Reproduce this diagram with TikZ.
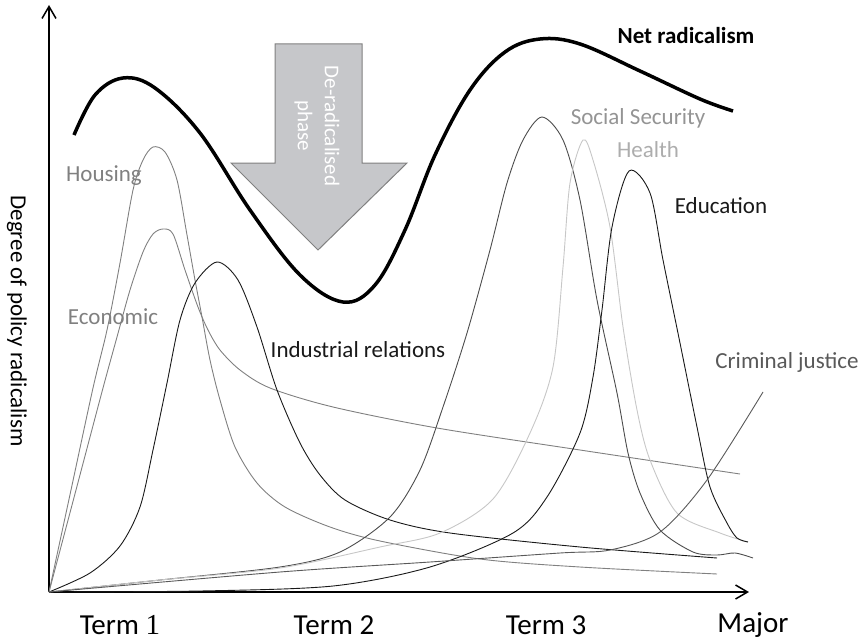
\documentclass[tikz,border=0pt]{standalone}
\usepackage{fontspec}
\setmainfont{Carlito}
\newfontfamily\onefont{Liberation Serif}
\usetikzlibrary{arrows.meta}

\definecolor{housegray}{gray}{0.5}
\definecolor{socgray}{gray}{0.3}
\definecolor{healthgray}{gray}{0.78}
\definecolor{crimgray}{gray}{0.35}
\definecolor{arrowfill}{RGB}{198,199,202}
\definecolor{arrowedge}{gray}{0.5}

\begin{document}
\begin{tikzpicture}[x=1pt,y=-1pt,
    curve/.style={line width=0.9pt,smooth,tension=0.5},
    lbl/.style={font=\fontsize{23}{26}\selectfont,inner sep=0pt},
    term/.style={font=\fontsize{29}{32}\selectfont,inner sep=0pt}]
    \useasboundingbox (0,0) rectangle (864,642);

		\coordinate (O) at (49,592) ;
		\coordinate (Y) at (49,5) ;
		\coordinate (X) at (749,592) ;

		\draw[line width=1.5pt,-{Straight Barb[length=12pt,width=14pt]}] (O)--(Y);
		\draw[line width=1.5pt,-{Straight Barb[length=12pt,width=14pt]}] (O)--(X);

		% de-radicalised arrow
		\draw[fill=arrowfill,draw=arrowedge,line width=1pt] (275,44)--(362,44)--(362,163)--(407,163)
		  --(318,250)--(231,163)--(275,163)--cycle;
		\node[rotate=-90,white,align=center,inner sep=0pt,font=\fontsize{21}{27}\selectfont] (dephase) at (317,126) {De-radicalised\\phase};

		% net radicalism
		\draw[line width=3.5pt,smooth,tension=0.6] plot coordinates {(74,135) (95,95) (123,78) (155,88) (200,133) (250,210)
		  (300,275) (343,302) (375,285) (405,230) (435,155) (470,90) (505,52) (540,39) (580,44) (640,71) (700,99) (733,111)};

		\draw[curve,housegray] plot coordinates {(49,592) (71,490) (93,388) (107,330) (120,263) (133,190) (143,160) (153,147)
		  (165,152) (177,180) (187,235) (195,280) (202,317) (210,360) (220,400) (235,447) (257,483) (285,507) (330,527)
		  (380,541) (480,559) (580,567) (717,574)};
		\draw[curve,housegray] plot coordinates {(49,592) (76,490) (103,388) (117,337) (130,290) (143,252) (153,234) (163,229)
		  (173,234) (185,270) (198,307) (208,330) (220,350) (240,370) (270,388) (333,407) (437,428) (580,450) (740,474)};
		\draw[curve,black!90] plot coordinates {(49,592) (90,573) (120,546) (140,507) (153,450) (167,383) (180,320) (195,283)
		  (217,262) (238,280) (257,327) (277,390) (300,443) (320,475) (345,500) (390,520) (450,533) (580,547) (717,558)};
		\draw[curve,socgray] plot coordinates {(49,592) (160,580) (280,567) (340,552) (390,517) (420,470) (443,407) (467,333)
		  (490,250) (507,183) (523,140) (542,117) (563,140) (580,200) (597,300) (617,393) (628,453) (640,493) (660,530)
		  (693,552) (717,555) (735,553) (753,558)};
		\draw[curve,healthgray] plot coordinates {(49,592) (160,580) (280,568) (380,547) (440,533) (493,499) (530,433) (553,367)
		  (563,267) (570,183) (583,140) (593,160) (610,227) (623,327) (637,410) (650,460) (677,513) (720,533) (748,542)};
		\draw[curve,black!90] plot coordinates {(49,592) (200,591) (333,586) (430,567) (513,533) (547,497) (580,433) (593,377)
		  (602,310) (612,227) (629,171) (650,193) (663,260) (680,343) (697,427) (710,487) (727,523) (737,538) (748,542)};
		\draw[curve,crimgray] plot coordinates {(49,592) (280,572) (430,562) (560,553) (610,550) (660,532) (707,480) (763,392)};

		% labels
		\node[lbl,font=\fontsize{23}{26}\selectfont\bfseries] (net) at (686,36) {Net radicalism};
		\node[lbl,text=black!42!white] (soc) at (638,118) {Social Security};
		\node[lbl,text=black!32!white] (health) at (648,150) {Health};
		\node[lbl,text=black!90] (edu) at (721,206) {Education};
		\node[lbl,text=housegray] (house) at (104,176) {Housing};
		\node[lbl,text=housegray] (econ) at (113,317) {Economic};
		\node[lbl,text=black!90] (ind) at (358,350) {Industrial relations};
		\node[lbl,text=crimgray] (crim) at (787,362) {Criminal justice};
		\node[lbl,rotate=-90] (ylab) at (17,321) {Degree of policy radicalism};

		\node[term] (t1) at (120,625) {Term {\onefont 1}};
		\node[term] (t2) at (334,625) {Term 2};
		\node[term] (t3) at (546,625) {Term 3};
		\node[term] (major) at (753,625) {Major};
\end{tikzpicture}
\end{document}
